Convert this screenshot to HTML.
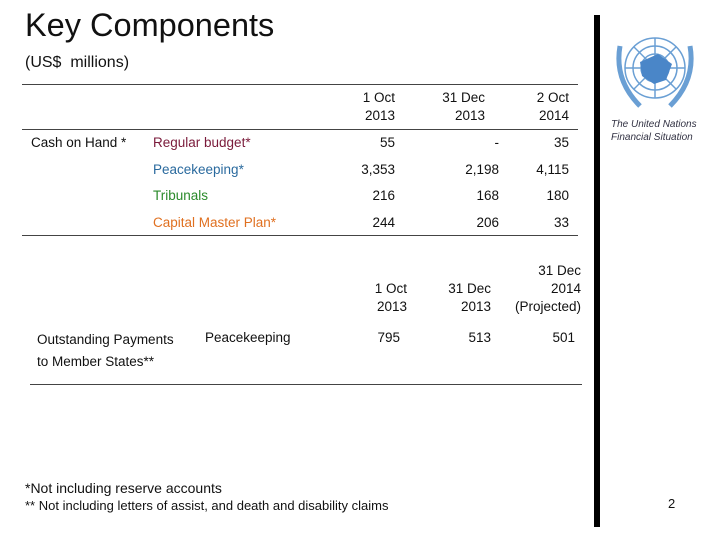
<!DOCTYPE html>
<html><head><meta charset="utf-8"><style>
body{margin:0;width:720px;height:540px;background:#fff;position:relative;overflow:hidden;font-family:"Liberation Sans",sans-serif;color:#111}
.a{position:absolute;white-space:nowrap;font-size:13.5px;line-height:18px}
.r{text-align:right}
.hl{position:absolute;height:1px;background:#444}
</style></head><body>
<div class="a" style="left:25px;top:5px;font-size:32.5px;line-height:40px">Key Components</div>
<div class="a" style="left:25px;top:54px;font-size:16px">(US$&nbsp; millions)</div>

<div class="hl" style="left:22px;top:84px;width:556px"></div>
<div class="hl" style="left:22px;top:129px;width:556px"></div>
<div class="hl" style="left:22px;top:235px;width:556px"></div>

<div class="a r" style="left:330px;top:89px;width:65px">1 Oct<br>2013</div>
<div class="a r" style="left:420px;top:89px;width:65px">31 Dec<br>2013</div>
<div class="a r" style="left:504px;top:89px;width:65px">2 Oct<br>2014</div>

<div class="a" style="left:31px;top:134px">Cash on Hand *</div>
<div class="a" style="left:153px;top:134px;color:#7a1a3a">Regular budget*</div>
<div class="a" style="left:153px;top:161px;color:#2a6a9e">Peacekeeping*</div>
<div class="a" style="left:153px;top:187px;color:#2a8a2a">Tribunals</div>
<div class="a" style="left:153px;top:214px;color:#e07020">Capital Master Plan*</div>

<div class="a r" style="left:330px;top:134px;width:65px">55</div>
<div class="a r" style="left:434px;top:134px;width:65px">-</div>
<div class="a r" style="left:504px;top:134px;width:65px">35</div>
<div class="a r" style="left:330px;top:161px;width:65px">3,353</div>
<div class="a r" style="left:434px;top:161px;width:65px">2,198</div>
<div class="a r" style="left:504px;top:161px;width:65px">4,115</div>
<div class="a r" style="left:330px;top:187px;width:65px">216</div>
<div class="a r" style="left:434px;top:187px;width:65px">168</div>
<div class="a r" style="left:504px;top:187px;width:65px">180</div>
<div class="a r" style="left:330px;top:214px;width:65px">244</div>
<div class="a r" style="left:434px;top:214px;width:65px">206</div>
<div class="a r" style="left:504px;top:214px;width:65px">33</div>

<div class="a r" style="left:340px;top:280px;width:67px">1 Oct<br>2013</div>
<div class="a r" style="left:424px;top:280px;width:67px">31 Dec<br>2013</div>
<div class="a r" style="left:501px;top:262px;width:80px">31 Dec<br>2014<br>(Projected)</div>

<div class="a" style="left:37px;top:329px;line-height:22px">Outstanding Payments<br>to Member States**</div>
<div class="a" style="left:205px;top:329px">Peacekeeping</div>
<div class="a r" style="left:335px;top:329px;width:65px">795</div>
<div class="a r" style="left:426px;top:329px;width:65px">513</div>
<div class="a r" style="left:510px;top:329px;width:65px">501</div>
<div class="hl" style="left:30px;top:384px;width:552px"></div>

<div class="a" style="left:25px;top:479px;font-size:14px">*Not including reserve accounts</div>
<div class="a" style="left:25px;top:497px;font-size:13px">** Not including letters of assist, and death and disability claims</div>

<div style="position:absolute;left:594px;top:15px;width:6px;height:512px;background:#000"></div>

<svg style="position:absolute;left:610px;top:28px" width="90" height="90" viewBox="0 0 90 90">
<g fill="none" stroke="#6a9fd4" stroke-width="1.5">
<circle cx="45" cy="40" r="30"/><circle cx="45" cy="40" r="22"/><circle cx="45" cy="40" r="14"/><circle cx="45" cy="40" r="6"/>
<line x1="45" y1="10" x2="45" y2="70"/><line x1="15" y1="40" x2="75" y2="40"/>
<line x1="24" y1="19" x2="66" y2="61"/><line x1="66" y1="19" x2="24" y2="61"/>
<path d="M10 18 Q4 52 30 78 M80 18 Q86 52 60 78" stroke-width="5"/>
</g>
<path d="M30 34 L48 26 L62 36 L56 52 L44 56 L32 48 Z" fill="#4a86c8"/>
</svg>
<div class="a" style="left:611px;top:118px;font-size:10px;line-height:13px;font-style:italic;color:#334">The United Nations<br>Financial Situation</div>

<div class="a" style="left:668px;top:495px;font-size:13px">2</div>
</body></html>
